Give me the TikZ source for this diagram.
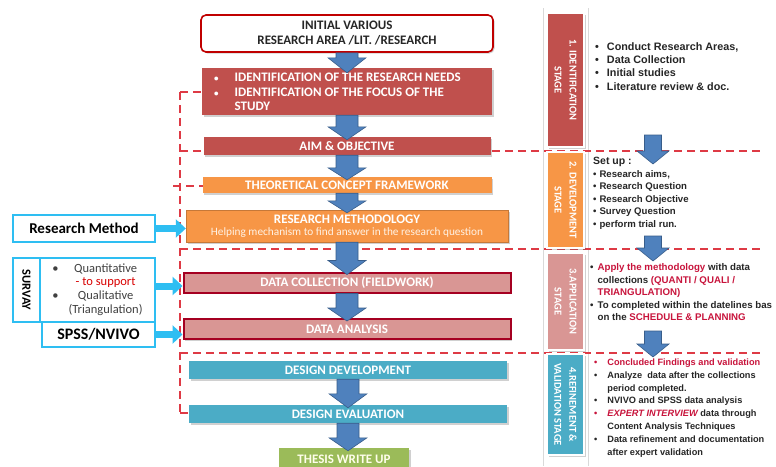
\documentclass[tikz,border=0pt]{standalone}
\usepackage{fontspec}
\setmainfont{Carlito}
\newfontfamily\arialf{Liberation Sans}
\usetikzlibrary{arrows.meta,shadows,calc}
\definecolor{bxred}{HTML}{C0504D}
\definecolor{bxdark}{HTML}{C00000}
\definecolor{bxorange}{HTML}{F79646}
\definecolor{bxpink}{HTML}{D99694}
\definecolor{bxcrim}{HTML}{A50021}
\definecolor{bxteal}{HTML}{4BACC6}
\definecolor{bxgreen}{HTML}{9BBB59}
\definecolor{arfill}{HTML}{4F81BD}
\definecolor{ardraw}{HTML}{385D8A}
\definecolor{cyanb}{HTML}{2EBEF2}
\definecolor{dashred}{HTML}{DE3A45}
\definecolor{txred}{HTML}{C8143C}
\definecolor{txgray}{HTML}{404040}
\newcommand\blockdown[5]{\filldraw[barrow] let \p1=(#1), \p2=(#2) in
  (\x1-#3,\y1) -- (\x1+#3,\y1) -- (\x1+#3,\y2+#5) -- (\x1+#4,\y2+#5) -- (\x1,\y2)
  -- (\x1-#4,\y2+#5) -- (\x1-#3,\y2+#5) -- cycle;}
\begin{document}
\begin{tikzpicture}[x=1pt,y=-1pt,
  shad/.style={drop shadow={shadow xshift=1.5pt,shadow yshift=-1.5pt,opacity=0.3,fill=black!60}},
  mainbox/.style={shad,inner sep=0pt,text=white,font=\bfseries\fontsize{13}{14}\selectfont},
  stagebox/.style={shad,draw=white,line width=1.2pt,inner sep=0pt,minimum width=37},
  stagetext/.style={rotate=-90,text=white,font=\bfseries\fontsize{10.5}{15}\selectfont,align=center},
  barrow/.style={fill=arfill,draw=ardraw,line width=0.6pt},
  dline/.style={dashred,line width=1.3pt,dash pattern=on 8pt off 5pt},
  cbox/.style={draw=cyanb,line width=2.5pt,fill=white,inner sep=0pt},
  carrow/.style={cyanb,line width=7pt,-{Triangle[length=10pt,width=18pt]}},
  rtext/.style={anchor=north west,inner sep=0pt,align=left}]
\useasboundingbox[fill=white] (0,0) rectangle (776,466);

% stage column frame
\draw[black!15,line width=0.6pt] (543,8) -- (543,466) (588,8) -- (588,466);

% dashed red grouping lines
\draw[dline] (180,92) -- (205,92);
\draw[dline] (180,151) -- (762,151);
\draw[dline] (173,186) -- (203,186);
\draw[dline] (180,249) -- (762,249);
\draw[dline] (180,353) -- (762,353);
\draw[dline] (180,413) -- (190,413);
\draw[dline] (180,92) -- (180,413);

% central column
\node[mainbox,draw=bxdark,line width=1.6pt,fill=white,rounded corners=5pt,text=black!85,
  minimum width=292,minimum height=37,align=center,font=\bfseries\fontsize{13}{15}\selectfont] (b1) at (347,33.5)
  {INITIAL VARIOUS\\RESEARCH AREA /LIT. /RESEARCH};
\node[mainbox,fill=bxred,minimum width=290,minimum height=47] (b2) at (347,91.5) {};
\node[rtext,text=white,font=\bfseries\fontsize{13}{14.5}\selectfont] (b2t) at (214,71.5)
  {\begin{tabular}{@{}l@{\hspace{16pt}}l@{}}
  {\fontsize{9}{10}\selectfont\textbullet} & IDENTIFICATION OF THE RESEARCH NEEDS\\
  {\fontsize{9}{10}\selectfont\textbullet} & IDENTIFICATION OF THE FOCUS OF THE\\
  & STUDY\end{tabular}};
\node[mainbox,fill=bxred,minimum width=287,minimum height=18] (b3) at (347,146) {AIM \& OBJECTIVE};
\node[mainbox,fill=bxorange,minimum width=289,minimum height=16] (b4) at (347,185) {THEORETICAL CONCEPT FRAMEWORK};
\node[mainbox,fill=bxorange,draw=bxorange!80!black,line width=0.4pt,minimum width=322,minimum height=32,align=center] (b5) at (347,226)
  {RESEARCH METHODOLOGY\\[-2pt]{\mdseries\fontsize{11.3}{12}\selectfont\color{orange!10}Helping mechanism to find answer in the research question}};
\node[mainbox,fill=bxpink,draw=bxcrim,line width=2pt,minimum width=327,minimum height=20] (b6) at (347,282.5) {DATA COLLECTION (FIELDWORK)};
\node[mainbox,fill=bxpink,draw=bxcrim,line width=2pt,minimum width=327,minimum height=20] (b7) at (347,329) {DATA ANALYSIS};
\node[mainbox,fill=bxteal,minimum width=318,minimum height=18] (b8) at (348,370) {DESIGN DEVELOPMENT};
\node[mainbox,fill=bxteal,minimum width=318,minimum height=18] (b9) at (348,414) {DESIGN EVALUATION};
\node[mainbox,fill=bxgreen,minimum width=130,minimum height=22,text=yellow!8] (b10) at (344,459) {THESIS WRITE UP};

% blue block arrows between boxes
\blockdown{b1.south}{$(b2.north)+(0,5)$}{11pt}{19pt}{15pt}
\blockdown{b2.south}{$(b3.north)+(0,3)$}{11pt}{19pt}{13pt}
\blockdown{b3.south}{$(b4.north)+(0,3)$}{11pt}{19pt}{12pt}
\blockdown{b4.south}{$(b5.north)+(0,3)$}{11pt}{19pt}{12pt}
\blockdown{b5.south}{$(b6.north)+(0,3)$}{11pt}{19pt}{14pt}
\blockdown{b6.south}{$(b7.north)+(0,3)$}{11pt}{19pt}{13pt}
\blockdown{b8.south}{$(b9.north)+(0,3)$}{11pt}{19pt}{14pt}
\blockdown{b9.south}{$(b10.north)+(0,3)$}{11pt}{19pt}{13pt}

% left boxes
\node[cbox,minimum width=142,minimum height=27,font=\bfseries\fontsize{15}{16}\selectfont] (rm) at (84,228.5) {Research Method};
\node[cbox,minimum width=27,minimum height=64] (sv) at (26.5,290) {};
\node[rotate=-90,font=\bfseries\fontsize{12.5}{14}\selectfont] (svt) at (sv.center) {SURVAY};
\node[cbox,minimum width=115,minimum height=64,text=txgray,font=\fontsize{12.5}{13.6}\selectfont] (qb) at (97.5,290)
  {\begin{tabular}{@{}c@{\hspace{10pt}}c@{}}
  \textbullet & Quantitative\\
  & \textcolor{red!85!black}{- to support}\\
  \textbullet & Qualitative\\
  & (Triangulation)\end{tabular}};
\node[cbox,minimum width=113,minimum height=25,font=\bfseries\fontsize{16}{17}\selectfont] (sp) at (98.5,334.5) {SPSS/NVIVO};

\draw[carrow] (rm.east) -- (rm.east -| b5.west);
\draw[carrow] ($(qb.east)+(0,-4)$) coordinate (c1) -- (c1 -| b6.west);
\draw[carrow] (sp.east) -- (sp.east -| b7.west);

% stage column
\node[stagebox,fill=bxred,minimum height=134] (s1) at (565.5,80) {};
\node[stagetext] (s1t) at (s1.center) {1. IDENTIFICATION\\STAGE};
\node[stagebox,fill=bxorange,minimum height=96] (s2) at (565.5,200) {};
\node[stagetext] (s2t) at (s2.center) {2. DEVELOPMENT\\STAGE};
\node[stagebox,fill=bxpink,minimum height=97] (s3) at (565.5,301.5) {};
\node[stagetext] (s3t) at (s3.center) {3.APPLICATION\\STAGE};
\node[stagebox,fill=bxteal,minimum height=101] (s4) at (565.5,404.5) {};
\node[stagetext] (s4t) at (s4.center) {4.REFINEMENT \&\\VALIDATION STAGE};

% right blue arrows
\coordinate (ra1) at (653,135); \coordinate (ra1e) at (653,164);
\coordinate (ra2) at (653,236); \coordinate (ra2e) at (653,261);
\coordinate (ra3) at (653,331); \coordinate (ra3e) at (653,357);
\blockdown{ra1}{ra1e}{8.5pt}{16pt}{13pt}
\blockdown{ra2}{ra2e}{8.5pt}{16pt}{13pt}
\blockdown{ra3}{ra3e}{8.5pt}{16pt}{13pt}

% right texts
\node[rtext,font=\arialf\bfseries\fontsize{10.8}{13.2}\selectfont,text=black!85] (r1) at (595,41)
  {\begin{tabular}{@{}l@{\hspace{8pt}}l@{}}
  \textbullet & Conduct Research Areas,\\
  \textbullet & Data Collection\\
  \textbullet & Initial studies\\
  \textbullet & Literature review \& doc.\end{tabular}};
\node[rtext,font=\arialf\bfseries\fontsize{9.6}{12.6}\selectfont,text=black!85] (r2) at (593,155.5)
  {\begin{tabular}{@{}l@{\hspace{3pt}}l@{}}
  \multicolumn{2}{@{}l@{}}{\fontsize{10.5}{12.6}\selectfont Set up :}\\
  \textbullet & Research aims,\\
  \textbullet & Research Question\\
  \textbullet & Research Objective\\
  \textbullet & Survey Question\\
  \textbullet & perform trial run.\end{tabular}};
\node[rtext,font=\arialf\bfseries\fontsize{9.7}{12.6}\selectfont,text=black!85] (r3) at (590,261.5)
  {\begin{tabular}{@{}l@{\hspace{4pt}}l@{}}
  \textbullet & \textcolor{txred}{Apply the methodology} with data\\
  & collections \textcolor{txred}{(QUANTI / QUALI /}\\
  & \textcolor{txred}{TRIANGULATION)}\\
  \textbullet & To completed within the datelines bas\\
  & on the \textcolor{txred}{SCHEDULE \& PLANNING}\end{tabular}};
\node[rtext,font=\arialf\bfseries\fontsize{9.2}{12.9}\selectfont,text=black!85] (r4) at (594,356)
  {\begin{tabular}{@{}l@{\hspace{10pt}}l@{}}
  \textcolor{txred}{\textbullet} & \textcolor{txred}{Concluded Findings and validation}\\
  \textbullet & Analyze\ \ data after the collections\\
  & period completed.\\
  \textbullet & NVIVO and SPSS data analysis\\
  \textcolor{txred}{\textbullet} & \textcolor{txred}{\itshape EXPERT INTERVIEW} data through\\
  & Content Analysis Techniques\\
  \textbullet & Data refinement and documentation\\
  & after expert validation\end{tabular}};
\end{tikzpicture}
\end{document}
